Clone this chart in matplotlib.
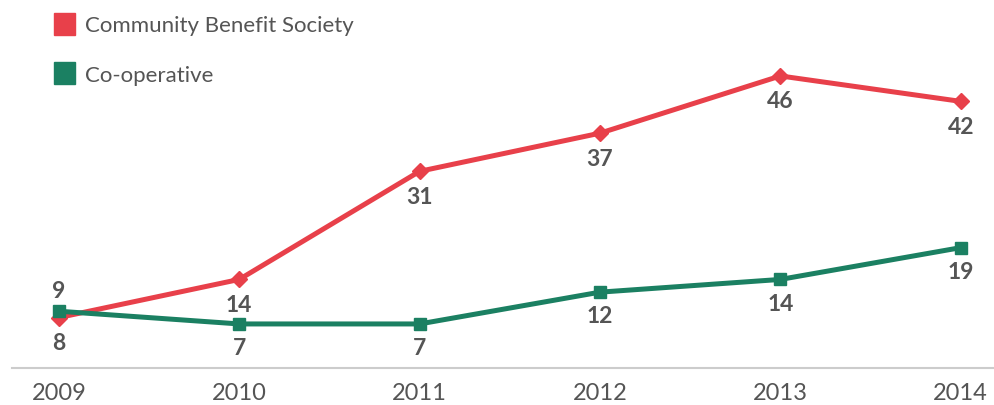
import matplotlib.pyplot as plt
from matplotlib.patches import Patch

# Data
years = [2009, 2010, 2011, 2012, 2013, 2014]
cbs = [8, 14, 31, 37, 46, 42]
coop = [9, 7, 7, 12, 14, 19]
series_names = ['Community Benefit Society', 'Co-operative']

red = '#E8404A'
green = '#1B8062'
grey_text = '#555555'

plt.rcParams['font.family'] = ['Lato', 'DejaVu Sans']

fig = plt.figure(figsize=(9.95, 4.06), dpi=100)
ax = fig.add_axes([0.012, 0.09, 0.988, 0.91])

ax.plot(years, cbs, color=red, lw=3.6, marker='D', ms=8.5, zorder=3)
ax.plot(years, coop, color=green, lw=3.6, marker='s', ms=9, zorder=4)

# value labels
for x, v in zip(years, cbs):
    ax.annotate(str(v), (x, v), xytext=(0, -18), textcoords='offset points',
                ha='center', va='center', fontsize=16.5, fontweight='bold', color=grey_text)
for i, (x, v) in enumerate(zip(years, coop)):
    dy = 15 if i == 0 else -17
    ax.annotate(str(v), (x, v), xytext=(0, dy), textcoords='offset points',
                ha='center', va='center', fontsize=16.5, fontweight='bold', color=grey_text)

ax.set_xlim(2008.74, 2014.19)
ax.set_ylim(0, 58.1)
ax.set_xticks(years)
ax.set_xticklabels([str(y) for y in years], fontsize=17, color=grey_text)
ax.tick_params(axis='x', length=0, pad=10)
ax.set_yticks([])
for s in ['top', 'right', 'left']:
    ax.spines[s].set_visible(False)
ax.spines['bottom'].set_color('#cccccc')
ax.spines['bottom'].set_linewidth(1.5)

handles = [Patch(color=red), Patch(color=green)]
leg = fig.legend(handles, series_names, loc='upper left', bbox_to_anchor=(0.034, 1.015),
                 frameon=False, fontsize=16, handlelength=0.95, handleheight=1.15,
                 handletextpad=0.45, labelspacing=1.2, labelcolor=grey_text)

fig.savefig('out.png', dpi=100)
